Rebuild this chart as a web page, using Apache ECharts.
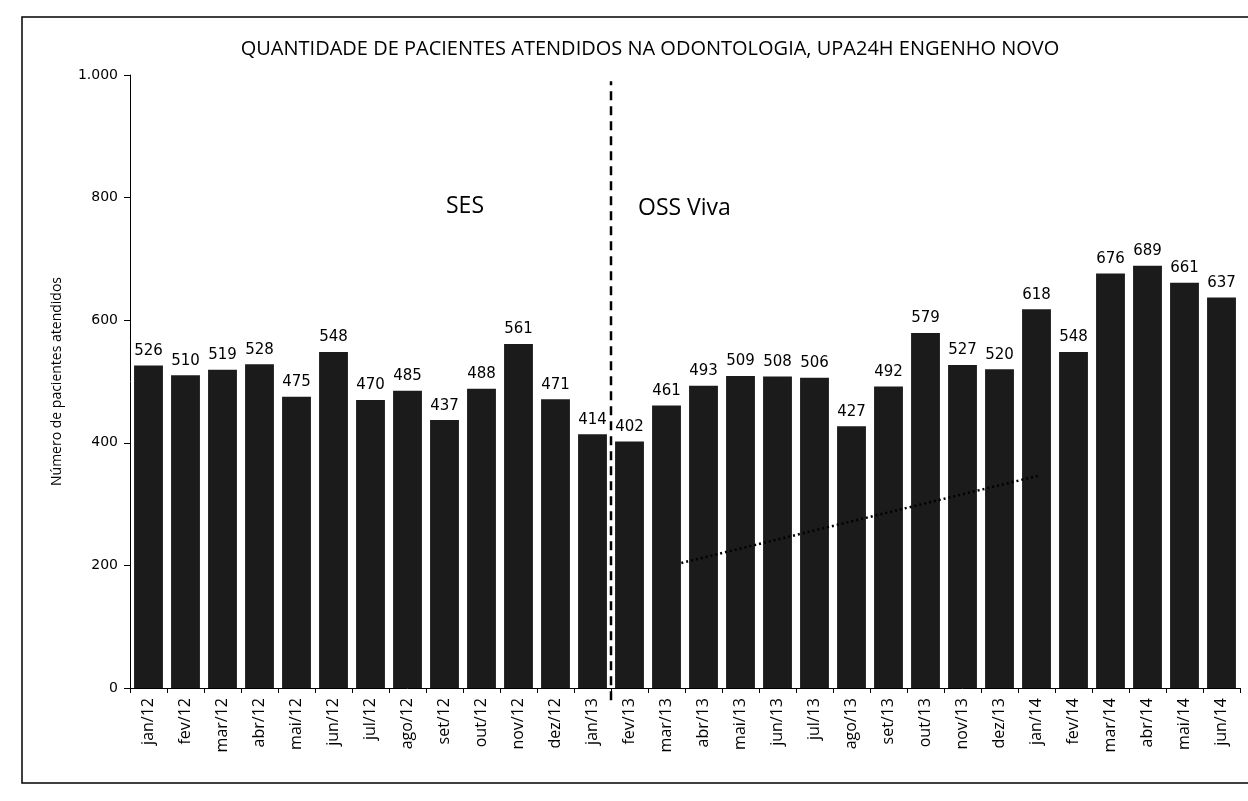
<!DOCTYPE html>
<html>
<head>
<meta charset="utf-8">
<script src="https://cdn.jsdelivr.net/npm/echarts@6/dist/echarts.min.js"></script>
<style>
  html, body { margin: 0; padding: 0; background: #fff; }
  #chart { width: 1248px; height: 801px; }
</style>
</head>
<body>
<div id="chart"></div>
<script>
// months on the x axis, one bar each
const months = [
  "jan/12", "fev/12", "mar/12", "abr/12", "mai/12", "jun/12", "jul/12", "ago/12",
  "set/12", "out/12", "nov/12", "dez/12", "jan/13", "fev/13", "mar/13", "abr/13",
  "mai/13", "jun/13", "jul/13", "ago/13", "set/13", "out/13", "nov/13", "dez/13",
  "jan/14", "fev/14", "mar/14", "abr/14", "mai/14", "jun/14"
];
const patients = [
  526, 510, 519, 528, 475, 548, 470, 485, 437, 488, 561, 471, 414,
  402, 461, 493, 509, 508, 506, 427, 492, 579, 527, 520, 618, 548, 676, 689, 661, 637
];
const yTicks = [0, 200, 400, 600, 800, 1000];
// divider between SES and OSS Viva, in category units (0..30)
const dividerAt = 13;
const dividerRange = [-20, 990];
// faint dotted trend segment: [categoryPos, value]
const trendPts = [[14.9, 204], [24.6, 347]];

const chart = echarts.init(document.getElementById("chart"));
const FONT = "Open Sans";
const INK = "#000";

chart.setOption({
  backgroundColor: "#fff",
  animation: false,
  title: {
    text: "QUANTIDADE DE PACIENTES ATENDIDOS NA ODONTOLOGIA, UPA24H ENGENHO NOVO",
    left: 645, top: 34, textAlign: "center",
    textStyle: { fontFamily: FONT, fontSize: 20, fontWeight: "normal", color: INK }
  },
  grid: { left: 130, right: 8, top: 75, bottom: 113 },
  xAxis: [
    {
      type: "category", data: months,
      axisLine: { lineStyle: { color: INK, width: 1 } },
      axisTick: { show: true, length: 5, lineStyle: { color: INK } },
      axisLabel: { rotate: 90, fontFamily: FONT, fontSize: 16, color: INK, margin: 10 }
    },
    { type: "value", min: 0, max: months.length, show: false }
  ],
  yAxis: {
    type: "value", min: 0, max: 1000, interval: 200,
    name: "Número de pacientes atendidos", nameLocation: "middle", nameGap: 66,
    nameTextStyle: { fontFamily: FONT, fontSize: 14, color: INK },
    splitLine: { show: false },
    axisLine: { show: true, lineStyle: { color: INK } },
    axisTick: { show: true, length: 6, lineStyle: { color: INK } },
    axisLabel: {
      fontFamily: "DejaVu Sans", fontSize: 14, color: INK, margin: 12,
      formatter: (v) => yTicks.includes(v) ? v.toLocaleString("pt-BR") : ""
    }
  },
  series: [
    {
      type: "bar", data: patients, barCategoryGap: "22%",
      itemStyle: { color: "#1b1b1b" },
      label: {
        show: true, position: "top", distance: 7,
        fontFamily: "DejaVu Sans", fontSize: 15, color: INK
      }
    },
    {
      type: "line", xAxisIndex: 1, clip: false, symbol: "none",
      data: [[dividerAt, dividerRange[0]], [dividerAt, dividerRange[1]]],
      lineStyle: { color: INK, width: 2.5, type: [9, 6] }
    },
    {
      type: "line", xAxisIndex: 1, symbol: "none", z: 3,
      data: trendPts,
      lineStyle: { color: INK, width: 2.5, type: [2, 3] }
    }
  ],
  graphic: [
    {
      type: "polyline",
      shape: { points: [[1248, 17], [22, 17], [22, 783], [1248, 783]] },
      style: { stroke: INK, lineWidth: 1.5, fill: null }
    },
    {
      type: "text", left: 446, top: 195,
      style: { text: "SES", font: "23px 'Open Sans'", fill: INK }
    },
    {
      type: "text", left: 638, top: 197,
      style: { text: "OSS Viva", font: "23px 'Open Sans'", fill: INK }
    }
  ]
});
</script>
</body>
</html>
